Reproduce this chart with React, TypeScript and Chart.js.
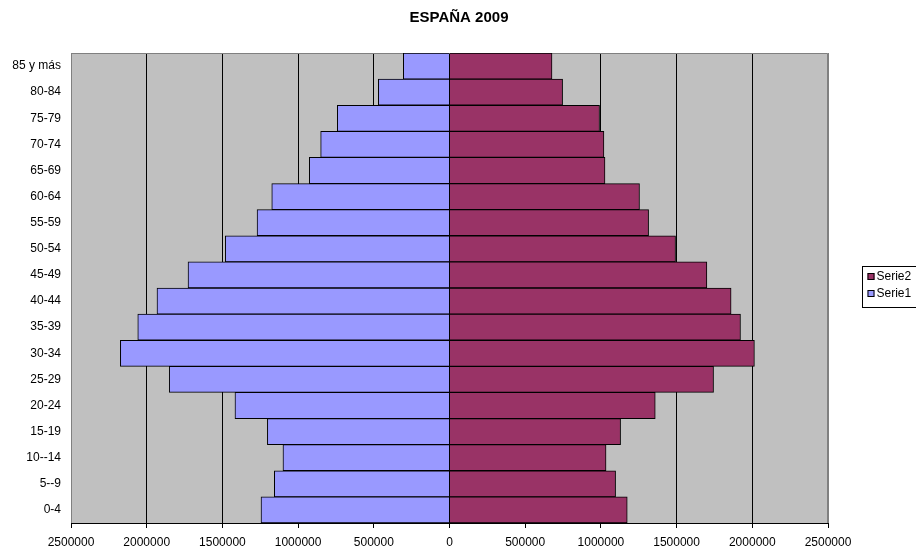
import { useEffect, useRef } from 'react';
import { Chart, registerables } from 'chart.js';

Chart.register(...registerables);

const categories = ['85 y más', '80-84', '75-79', '70-74', '65-69', '60-64', '55-59', '50-54', '45-49', '40-44', '35-39', '30-34', '25-29', '20-24', '15-19', '10--14', '5--9', '0-4'];
const serie1 = [305000, 470000, 741000, 851000, 926000, 1174000, 1271000, 1481000, 1727000, 1932000, 2059000, 2174000, 1851000, 1417000, 1203000, 1100000, 1157000, 1245000];
const serie2 = [677000, 747000, 991000, 1020000, 1027000, 1255000, 1315000, 1493000, 1700000, 1860000, 1922000, 2014000, 1744000, 1359000, 1130000, 1034000, 1097000, 1174000];
const xTicks = [-2500000, -2000000, -1500000, -1000000, -500000, 0, 500000, 1000000, 1500000, 2000000, 2500000];
const title = 'ESPAÑA 2009';
const seriesNames = ['Serie1', 'Serie2'];
const seriesColors = ['#9999FF', '#993366'];

const FONT = "Arial, 'Liberation Sans', sans-serif";

const bgPlugin = {
  id: 'plotBg',
  beforeDraw(chart: any) {
    const { ctx, chartArea } = chart;
    ctx.save();
    ctx.fillStyle = '#ffffff';
    ctx.fillRect(0, 0, chart.width, chart.height);
    ctx.fillStyle = '#C0C0C0';
    ctx.fillRect(chartArea.left, chartArea.top, chartArea.right - chartArea.left, chartArea.bottom - chartArea.top);
    ctx.restore();
  },
  beforeDatasetsDraw(chart: any) {
    const { ctx, chartArea } = chart;
    ctx.save();
    ctx.strokeStyle = '#808080';
    ctx.lineWidth = 1;
    ctx.beginPath();
    ctx.moveTo(chartArea.left + 0.5, chartArea.bottom);
    ctx.lineTo(chartArea.left + 0.5, chartArea.top + 0.5);
    ctx.lineTo(chartArea.right - 0.5, chartArea.top + 0.5);
    ctx.lineTo(chartArea.right - 0.5, chartArea.bottom);
    ctx.stroke();
    ctx.restore();
  },
  afterDraw(chart: any) {
    const { ctx } = chart;
    ctx.save();
    ctx.fillStyle = '#000000';
    ctx.font = `bold 15px ${FONT}`;
    ctx.textAlign = 'center';
    ctx.textBaseline = 'middle';
    ctx.fillText(title, chart.width / 2 + 1, 18);
    ctx.restore();
  },
};

const legendPlugin = {
  id: 'boxLegend',
  afterDraw(chart: any) {
    const { ctx } = chart;
    const ds = chart.data.datasets.slice().reverse();
    const x0 = 862.5;
    const y0 = 266.5;
    const w = 60;
    const rowH = 17;
    const h = ds.length * rowH + 7;
    ctx.save();
    ctx.fillStyle = '#ffffff';
    ctx.fillRect(x0, y0, w, h);
    ctx.strokeStyle = '#000000';
    ctx.lineWidth = 1;
    ctx.strokeRect(x0, y0, w, h);
    ctx.font = `12px ${FONT}`;
    ctx.textBaseline = 'middle';
    ctx.textAlign = 'left';
    ds.forEach((d: any, i: number) => {
      const cy = y0 + 10 + i * rowH;
      ctx.fillStyle = d.backgroundColor;
      ctx.fillRect(x0 + 5, cy - 3.5, 7, 7);
      ctx.strokeStyle = '#000000';
      ctx.strokeRect(x0 + 5.5, cy - 3, 6, 6);
      ctx.fillStyle = '#000000';
      ctx.fillText(d.label, x0 + 14, cy);
    });
    ctx.restore();
  },
};

export default function App() {
  const ref = useRef<HTMLCanvasElement | null>(null);
  useEffect(() => {
    document.body.style.margin = '0';
    const canvas = ref.current!;
    const chart = new Chart(canvas, {
      type: 'bar',
      data: {
        labels: categories,
        datasets: [
          {
            label: seriesNames[0],
            data: serie1.map((v) => -v),
            backgroundColor: seriesColors[0],
            borderColor: '#000000',
            borderWidth: 1,
            categoryPercentage: 1,
            barPercentage: 1,
          },
          {
            label: seriesNames[1],
            data: serie2,
            backgroundColor: seriesColors[1],
            borderColor: '#000000',
            borderWidth: 1,
            categoryPercentage: 1,
            barPercentage: 1,
          },
        ],
      },
      options: {
        indexAxis: 'y',
        responsive: false,
        animation: false,
        devicePixelRatio: 1,
        layout: { padding: { left: 0, right: 88, top: 53, bottom: 0 } },
        plugins: {
          legend: { display: false },
          tooltip: { enabled: false },
          title: { display: false },
        },
        scales: {
          x: {
            type: 'linear',
            stacked: true,
            min: -2500000,
            max: 2500000,
            afterBuildTicks: (scale: any) => {
              scale.ticks = xTicks.map((v) => ({ value: v }));
            },
            afterFit: (scale: any) => {
              scale.height = 26;
            },
            ticks: {
              color: '#000000',
              font: { family: FONT, size: 12 },
              padding: 7,
              maxRotation: 0,
              autoSkip: false,
              callback: (v: any) => String(Math.abs(Number(v))),
            },
            grid: {
              color: (c: any) => (c.tick && Math.abs(c.tick.value) === 2500000 ? '#808080' : '#000000'),
              tickColor: '#000000',
              tickLength: 5,
              lineWidth: 1,
            },
            border: { display: true, color: '#000000', width: 1 },
          },
          y: {
            type: 'category',
            stacked: true,
            afterFit: (scale: any) => {
              scale.width = 71;
            },
            ticks: {
              color: '#000000',
              font: { family: FONT, size: 12 },
              padding: 10,
              autoSkip: false,
            },
            grid: { display: false, drawTicks: false },
            border: { display: false },
          },
        },
      },
      plugins: [bgPlugin, legendPlugin],
    });
    return () => chart.destroy();
  }, []);
  return (
    <div style={{ width: 916, height: 549 }}>
      <canvas ref={ref} width={916} height={549} style={{ width: 916, height: 549, display: 'block' }} />
    </div>
  );
}
